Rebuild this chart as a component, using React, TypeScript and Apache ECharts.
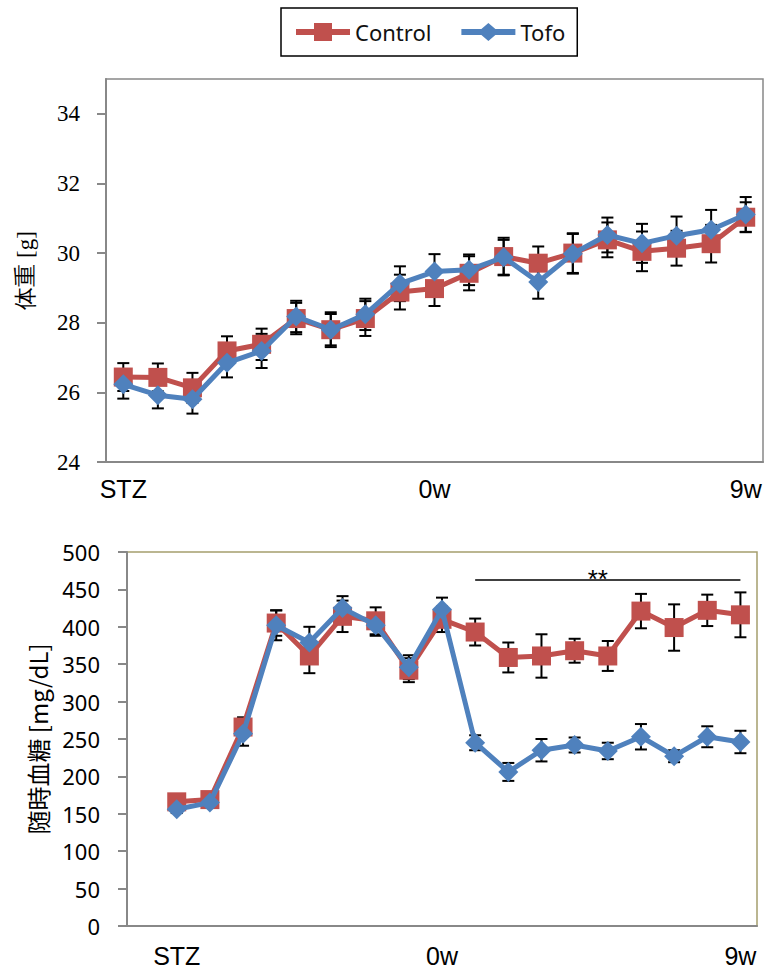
import React, { useEffect, useRef } from "react";
import * as echarts from "echarts";

// ---- shared x positions (19 time points) ----
const timePoints = ["STZ", "t1", "t2", "t3", "t4", "t5", "t6", "t7", "t8", "0w", "t10", "t11", "t12", "t13", "t14", "t15", "t16", "t17", "9w"];
const topTickLabels = ["STZ", "", "", "", "", "", "", "", "", "0w", "", "", "", "", "", "", "", "", "9w"];
const bottomTickLabels = ["", "STZ", "", "", "", "", "", "", "", "0w", "", "", "", "", "", "", "", "", "9w"];

// ---- body weight [g] ----
const controlWeight = [26.44, 26.43, 26.13, 27.19, 27.38, 28.12, 27.8, 28.12, 28.88, 28.98, 29.42, 29.9, 29.71, 30.0, 30.38, 30.05, 30.14, 30.27, 31.03];
const controlWeightErr = [0.4, 0.4, 0.43, 0.42, 0.45, 0.45, 0.5, 0.5, 0.5, 0.5, 0.49, 0.54, 0.48, 0.57, 0.5, 0.57, 0.5, 0.54, 0.43];
const tofoWeight = [26.23, 25.92, 25.8, 26.85, 27.19, 28.18, 27.8, 28.24, 29.12, 29.47, 29.52, 29.88, 29.17, 29.98, 30.52, 30.28, 30.5, 30.67, 31.11];
const tofoWeightErr = [0.41, 0.38, 0.41, 0.42, 0.49, 0.45, 0.45, 0.45, 0.5, 0.5, 0.44, 0.5, 0.48, 0.57, 0.5, 0.56, 0.55, 0.57, 0.5];
const weightTicks = [24, 26, 28, 30, 32, 34];

// ---- random blood glucose [mg/dL] ----
const controlGlucose = [null, 166, 169, 266, 405, 361, 414, 408, 342, 410, 393, 359, 361, 368, 361, 421, 399, 422, 416];
const controlGlucoseErr = [null, 6, 6, 13, 17, 23, 21, 18, 16, 17, 18, 20, 29, 16, 20, 23, 31, 21, 30];
const tofoGlucose = [null, 156, 165, 257, 402, 379, 425, 402, 346, 423, 245, 206, 235, 242, 234, 253, 227, 253, 246];
const tofoGlucoseErr = [null, 5, 5, 16, 20, 21, 16, 14, 16, 16, 10, 12, 15, 10, 11, 17, 8, 14, 15];
const sigFromIndex = 10;
const sigToIndex = 18;
const sigLevel = 463.5;
const sigLabel = "**";

const RED = "#C0504D";
const BLUE = "#4F81BD";

// legend icons: thick line with marker in the middle
const controlIcon = "path://M0,6L18,6L18,0L36,0L36,6L54,6L54,12L36,12L36,18L18,18L18,12L0,12Z";
const tofoIcon = "path://M0,6L20,6L27,0L34,6L54,6L54,12L34,12L27,18L20,12L0,12Z";

function errData(vals: (number | null)[], errs: (number | null)[]) {
  const out: number[][] = [];
  vals.forEach((v, i) => {
    const e = errs[i];
    if (v == null || e == null) return;
    out.push([i, v - e, v + e]);
  });
  return out;
}

function errorSeries(data: number[][], xIdx: number, yIdx: number) {
  return {
    type: "custom",
    xAxisIndex: xIdx,
    yAxisIndex: yIdx,
    z: 1,
    silent: true,
    data,
    encode: { x: 0, y: [1, 2] },
    renderItem: (params: any, api: any) => {
      const x = api.value(0);
      const lo = api.coord([x, api.value(1)]);
      const hi = api.coord([x, api.value(2)]);
      const w = 6;
      const style = { stroke: "#000", lineWidth: 2 };
      return {
        type: "group",
        children: [
          { type: "line", shape: { x1: lo[0], y1: lo[1], x2: hi[0], y2: hi[1] }, style },
          { type: "line", shape: { x1: hi[0] - w, y1: hi[1], x2: hi[0] + w, y2: hi[1] }, style },
          { type: "line", shape: { x1: lo[0] - w, y1: lo[1], x2: lo[0] + w, y2: lo[1] }, style },
        ],
      };
    },
  };
}

export default function App() {
  const ref = useRef<HTMLDivElement>(null);
  useEffect(() => {
    if (!ref.current) return;
    const chart = echarts.init(ref.current, null, { renderer: "svg" });
    const xLabelStyle = { fontFamily: "Liberation Sans", fontSize: 25, color: "#000" };
    const option: any = {
      animation: false,
      backgroundColor: "#fff",
      textStyle: { fontFamily: "serif" },
      legend: {
        left: 281,
        top: 8,
        padding: [13, 12, 13, 15],
        itemGap: 30,
        itemWidth: 54,
        itemHeight: 18,
        borderColor: "#000",
        borderWidth: 1.5,
        textStyle: { fontFamily: "Noto Sans", fontSize: 22, color: "#111" },
        data: [
          { name: "Control", icon: controlIcon, itemStyle: { color: RED } },
          { name: "Tofo", icon: tofoIcon, itemStyle: { color: BLUE } },
        ],
      },
      grid: [
        { left: 106, top: 79, width: 657, height: 383, show: true, borderColor: "#888", borderWidth: 1.5 },
        { left: 127, top: 552, width: 630, height: 374, show: true, borderColor: "#A59E6E", borderWidth: 1.5 },
      ],
      xAxis: [
        {
          type: "category",
          gridIndex: 0,
          data: timePoints,
          boundaryGap: true,
          axisLine: { lineStyle: { color: "#888", width: 2 } },
          axisTick: { show: false },
          axisLabel: { ...xLabelStyle, interval: 0, margin: 14, formatter: (_v: string, i: number) => topTickLabels[i] },
        },
        {
          type: "category",
          gridIndex: 1,
          data: timePoints,
          boundaryGap: true,
          axisLine: { lineStyle: { color: "#888", width: 2 } },
          axisTick: { show: false },
          axisLabel: { ...xLabelStyle, interval: 0, margin: 17, formatter: (_v: string, i: number) => bottomTickLabels[i] },
        },
      ],
      yAxis: [
        {
          type: "value",
          gridIndex: 0,
          min: 24,
          max: 35,
          interval: 2,
          name: "体重 [g]",
          nameLocation: "middle",
          nameGap: 69,
          nameTextStyle: { fontFamily: "serif", fontSize: 23, color: "#000" },
          axisLine: { show: true, lineStyle: { color: "#888", width: 2 } },
          axisTick: { show: true, length: 9, lineStyle: { color: "#888", width: 2 } },
          axisLabel: {
            fontFamily: "serif",
            fontSize: 23,
            color: "#000",
            margin: 26,
            showMaxLabel: false,
            formatter: (v: number) => (weightTicks.indexOf(v) >= 0 ? String(v) : ""),
          },
          splitLine: { show: false },
        },
        {
          type: "value",
          gridIndex: 1,
          min: 0,
          max: 500,
          interval: 50,
          name: "随時血糖 [mg/dL]",
          nameLocation: "middle",
          nameGap: 78,
          nameTextStyle: { fontFamily: "Noto Sans CJK JP", fontSize: 24, color: "#000" },
          axisLine: { show: true, lineStyle: { color: "#888", width: 2 } },
          axisTick: { show: true, length: 9, lineStyle: { color: "#888", width: 2 } },
          axisLabel: { fontFamily: "Noto Sans", fontSize: 22, color: "#000", margin: 27 },
          splitLine: { show: false },
        },
      ],
      series: [
        errorSeries(errData(controlWeight, controlWeightErr), 0, 0),
        errorSeries(errData(tofoWeight, tofoWeightErr), 0, 0),
        errorSeries(errData(controlGlucose, controlGlucoseErr), 1, 1),
        errorSeries(errData(tofoGlucose, tofoGlucoseErr), 1, 1),
        {
          name: "Control",
          type: "line",
          xAxisIndex: 0,
          yAxisIndex: 0,
          z: 3,
          data: controlWeight,
          symbol: "rect",
          symbolSize: 19,
          lineStyle: { color: RED, width: 5 },
          itemStyle: { color: RED },
        },
        {
          name: "Tofo",
          type: "line",
          xAxisIndex: 0,
          yAxisIndex: 0,
          z: 4,
          data: tofoWeight,
          symbol: "diamond",
          symbolSize: 20,
          lineStyle: { color: BLUE, width: 5 },
          itemStyle: { color: BLUE },
        },
        {
          name: "Control",
          type: "line",
          xAxisIndex: 1,
          yAxisIndex: 1,
          z: 3,
          data: controlGlucose,
          symbol: "rect",
          symbolSize: 19,
          lineStyle: { color: RED, width: 5 },
          itemStyle: { color: RED },
          markLine: {
            silent: true,
            symbol: "none",
            lineStyle: { color: "#000", width: 1.5, type: "solid" },
            label: {
              show: true,
              position: "middle",
              formatter: sigLabel,
              fontFamily: "Liberation Sans",
              fontSize: 26,
              color: "#000",
              distance: -13,
              offset: [-10, 0],
            },
            data: [[{ coord: [sigFromIndex, sigLevel] }, { coord: [sigToIndex, sigLevel] }]],
          },
        },
        {
          name: "Tofo",
          type: "line",
          xAxisIndex: 1,
          yAxisIndex: 1,
          z: 4,
          data: tofoGlucose,
          symbol: "diamond",
          symbolSize: 20,
          lineStyle: { color: BLUE, width: 5 },
          itemStyle: { color: BLUE },
        },
      ],
    };
    chart.setOption(option);
    return () => chart.dispose();
  }, []);
  return <div ref={ref} style={{ position: "fixed", left: 0, top: 0, width: 766, height: 976 }} />;
}
